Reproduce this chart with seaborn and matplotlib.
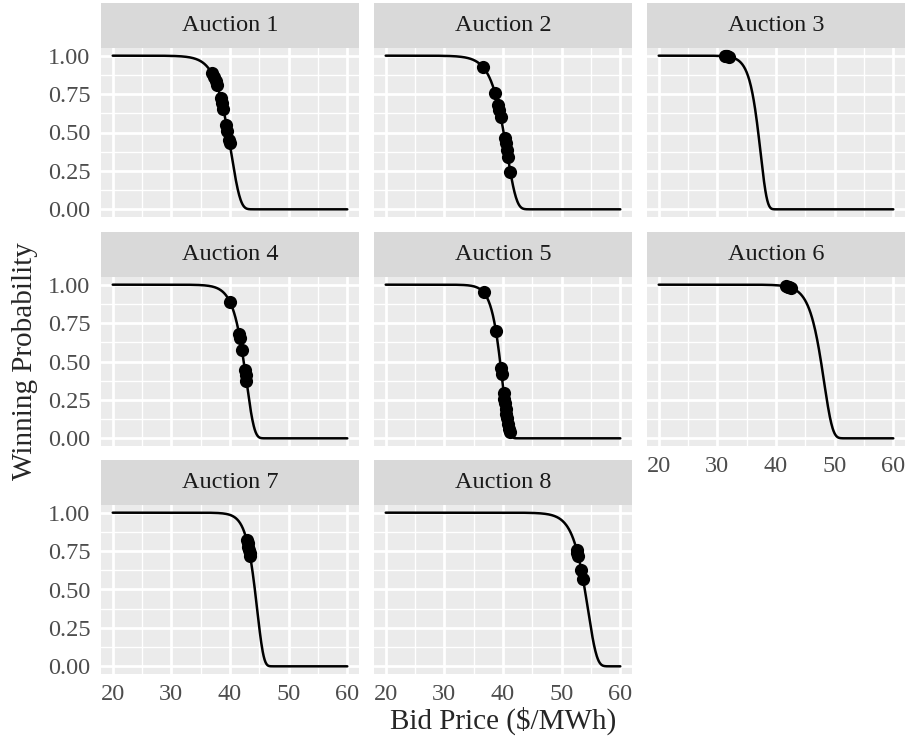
import numpy as np
import pandas as pd
import seaborn as sns
import matplotlib.pyplot as plt
from matplotlib.patches import Rectangle

auctions = ['Auction 1', 'Auction 2', 'Auction 3', 'Auction 4',
            'Auction 5', 'Auction 6', 'Auction 7', 'Auction 8']

# fitted winning curve per auction: P = exp(-exp((bid - loc) / scale))
curve_loc = [40.20, 40.70, 37.37, 42.82, 39.90, 48.20, 44.64, 54.50]
curve_scale = [1.571, 1.606, 1.095, 1.328, 1.08, 1.45, 1.10, 1.50]

# observed bids and their winning probability
bid_price = [
    [36.87, 37.22, 37.54, 37.75, 38.43, 38.64, 38.87, 39.40, 39.57, 39.85, 39.93],
    [36.58, 38.62, 39.17, 39.37, 39.61, 40.28, 40.43, 40.62, 40.81, 41.27],
    [31.3, 31.5, 31.7, 31.9],
    [40.00, 41.55, 41.67, 42.03, 42.54, 42.66, 42.79],
    [36.69, 38.78, 39.63, 39.75, 40.12, 40.22, 40.33, 40.43, 40.55, 40.67, 40.82, 41.00, 41.15],
    [41.7, 42.0, 42.3, 42.6],
    [42.85, 42.99, 43.12, 43.24, 43.34, 43.44],
    [52.56, 52.70, 52.83, 53.34, 53.64],
]
win_prob = [
    [0.887, 0.861, 0.832, 0.810, 0.723, 0.690, 0.651, 0.549, 0.512, 0.450, 0.430],
    [0.926, 0.760, 0.680, 0.647, 0.603, 0.462, 0.429, 0.386, 0.342, 0.240],
    [0.996, 0.995, 0.995, 0.994],
    [0.887, 0.680, 0.656, 0.575, 0.444, 0.412, 0.375],
    [0.950, 0.701, 0.460, 0.418, 0.292, 0.259, 0.227, 0.194, 0.161, 0.129, 0.096, 0.063, 0.041],
    [0.989, 0.986, 0.983, 0.979],
    [0.822, 0.800, 0.778, 0.755, 0.735, 0.715],
    [0.760, 0.740, 0.720, 0.630, 0.570],
]

x_ticks = [20, 30, 40, 50, 60]
y_ticks = [0.00, 0.25, 0.50, 0.75, 1.00]

# build data frames
grid_x = np.linspace(20, 60, 500)
curves = []
points = []
for name, loc, sc, bx, by in zip(auctions, curve_loc, curve_scale, bid_price, win_prob):
    curves.append(pd.DataFrame({'auction': name, 'price': grid_x,
                                'prob': np.exp(-np.exp((grid_x - loc) / sc))}))
    points.append(pd.DataFrame({'auction': name, 'price': bx, 'prob': by}))
curve_df = pd.concat(curves, ignore_index=True)
point_df = pd.concat(points, ignore_index=True)

sns.set_theme(style='darkgrid', rc={'axes.facecolor': '#EBEBEB', 'grid.color': 'white',
                                    'figure.facecolor': 'white'})
plt.rcParams['font.family'] = ['Liberation Serif', 'DejaVu Serif']

g = sns.FacetGrid(point_df, col='auction', col_wrap=3, col_order=auctions,
                  sharex=True, sharey=True, despine=False)
fig = g.figure
fig.set_size_inches(9.07, 7.42)
fig.set_dpi(100)

W, H = 907, 742
lefts = [101, 374, 647]
tops = [48, 277, 505]
pw, ph = 258, 169

for i, (ax, name) in enumerate(zip(g.axes.flat, auctions)):
    r, c = divmod(i, 3)
    ax.set_position([lefts[c] / W, 1 - (tops[r] + ph) / H, pw / W, ph / H])
    sns.lineplot(data=curve_df[curve_df.auction == name], x='price', y='prob',
                 ax=ax, color='black', lw=1.8, estimator=None)
    sns.scatterplot(data=point_df[point_df.auction == name], x='price', y='prob',
                    ax=ax, color='black', s=90, edgecolor='black', linewidth=0, zorder=3)
    ax.set_xlim(18, 62)
    ax.set_ylim(-0.05, 1.05)
    ax.set_xticks(x_ticks)
    ax.set_yticks(y_ticks)
    ax.set_xticks([25, 35, 45, 55], minor=True)
    ax.set_yticks([0.125, 0.375, 0.625, 0.875], minor=True)
    ax.grid(which='major', color='white', lw=2.0)
    ax.grid(which='minor', color='white', lw=1.0)
    ax.set_axisbelow(True)
    for sp in ax.spines.values():
        sp.set_visible(False)
    ax.tick_params(which='minor', length=0)
    ax.tick_params(which='major', length=5, width=1.4, color='#333333',
                   labelcolor='#4D4D4D', labelsize=17.5, pad=2.5)
    ax.set_title('')
    ax.set_xlabel('')
    ax.set_ylabel('')
    # strip
    sh = 45 / ph
    ax.add_patch(Rectangle((0, 1), 1, sh, transform=ax.transAxes, facecolor='#D9D9D9',
                           edgecolor='none', clip_on=False))
    ax.text(0.5, 1 + sh / 2, name, transform=ax.transAxes, ha='center', va='center',
            fontsize=17.5, color='#1A1A1A')
    if c == 0:
        ax.set_yticklabels(['0.00', '0.25', '0.50', '0.75', '1.00'])
    else:
        ax.tick_params(axis='y', length=0, labelleft=False)
    if i >= 5:
        ax.tick_params(axis='x', labelbottom=True)
    else:
        ax.tick_params(axis='x', length=0, labelbottom=False)

fig.text(503 / W, 1 - 721 / H, 'Bid Price ($/MWh)', ha='center', va='center', fontsize=21)
fig.text(25 / W, 1 - 361 / H, 'Winning Probability', ha='center', va='center',
         rotation=90, fontsize=21)

fig.savefig('out.png', dpi=100)
